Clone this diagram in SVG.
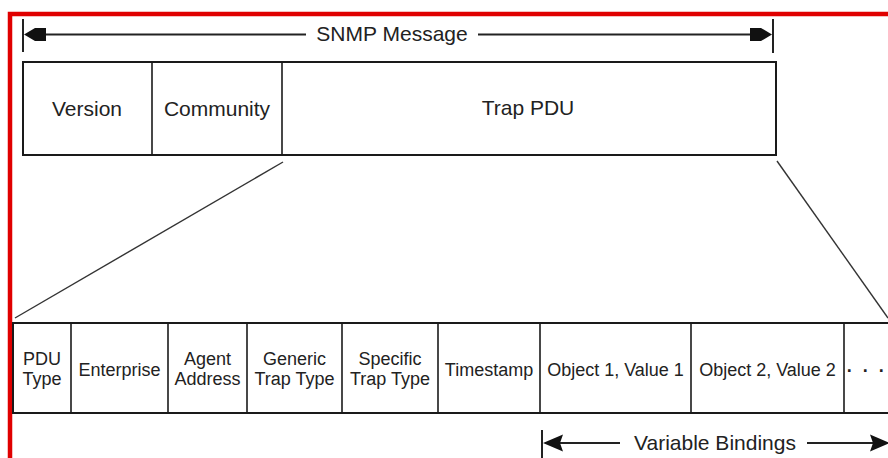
<svg xmlns="http://www.w3.org/2000/svg" xmlns:xlink="http://www.w3.org/1999/xlink" width="888" height="458" viewBox="0 0 888 458">
<style>
.box{fill:#fff;stroke:#1a1a1a;stroke-width:2}
.div{stroke:#1a1a1a;stroke-width:1.6}
.t20{font-family:"Liberation Sans",Arial,sans-serif;font-size:21px;fill:#222;text-anchor:middle}
.t18{font-family:"Liberation Sans",Arial,sans-serif;font-size:18px;fill:#222;text-anchor:middle}
.ln{stroke:#222;stroke-width:1.8;fill:none}
.diag{stroke:#333;stroke-width:1.4;fill:none}
.tick{stroke:#222;stroke-width:2}
.ah{fill:#111}
</style>
<defs>
<path id="ahL" d="M0,0 L11,-6.5 L22,-6.5 L22,6.5 L11,6.5 Z"/>
<path id="ahL2" d="M0,0 L20,-8.5 L17,0 L20,8.5 Z"/>
</defs>
<rect width="888" height="458" fill="#fff"/>
<path d="M10,460 L10,14 L890,14" fill="none" stroke="#e00000" stroke-width="4.5"/>

<g id="snmp-message">
<rect class="box" x="23" y="62" width="753" height="93"/>
</g>
<g id="version">
<text class="t20" x="87" y="116">Version</text>
</g>
<g id="community">
<line class="div" x1="152" y1="62" x2="152" y2="155"/>
<text class="t20" x="217" y="116">Community</text>
</g>
<g id="trap-pdu">
<line class="div" x1="282" y1="62" x2="282" y2="155"/>
<text class="t20" x="528" y="115">Trap PDU</text>
</g>

<g id="pdu-row">
<rect class="box" x="13" y="323" width="890" height="90"/>
</g>
<g id="pdu-type">
<text class="t18" x="42" y="365">PDU</text>
<text class="t18" x="42" y="385">Type</text>
</g>
<g id="enterprise">
<line class="div" x1="71" y1="323" x2="71" y2="413"/>
<text class="t18" x="119.5" y="376">Enterprise</text>
</g>
<g id="agent-address">
<line class="div" x1="168" y1="323" x2="168" y2="413"/>
<text class="t18" x="207.5" y="365">Agent</text>
<text class="t18" x="207.5" y="385">Address</text>
</g>
<g id="generic-trap-type">
<line class="div" x1="247" y1="323" x2="247" y2="413"/>
<text class="t18" x="294.5" y="365">Generic</text>
<text class="t18" x="294.5" y="385">Trap Type</text>
</g>
<g id="specific-trap-type">
<line class="div" x1="342" y1="323" x2="342" y2="413"/>
<text class="t18" x="390" y="365">Specific</text>
<text class="t18" x="390" y="385">Trap Type</text>
</g>
<g id="timestamp">
<line class="div" x1="438" y1="323" x2="438" y2="413"/>
<text class="t18" x="489" y="376">Timestamp</text>
</g>
<g id="object1">
<line class="div" x1="540" y1="323" x2="540" y2="413"/>
<text class="t18" x="615.5" y="376">Object 1, Value 1</text>
</g>
<g id="object2">
<line class="div" x1="691" y1="323" x2="691" y2="413"/>
<text class="t18" x="767.5" y="376">Object 2, Value 2</text>
</g>
<g id="more">
<line class="div" x1="844" y1="323" x2="844" y2="413"/>
<text class="t18" x="867" y="377" style="letter-spacing:2.5px;font-weight:bold">· · ·</text>
</g>

<g id="connectors">
<line class="diag" x1="283" y1="162" x2="15" y2="318"/>
<line class="diag" x1="777" y1="161" x2="888" y2="318"/>

<line class="tick" x1="23" y1="19" x2="23" y2="52"/>
<line class="tick" x1="773" y1="19" x2="773" y2="53"/>
<line class="ln" x1="40" y1="34.5" x2="306" y2="34.5"/>
<line class="ln" x1="478" y1="34.5" x2="755" y2="34.5"/>
<use href="#ahL" class="ah" transform="translate(24,34.5)"/>
<use href="#ahL" class="ah" transform="translate(772,34.5) scale(-1,1)"/>
<text class="t20" x="392" y="41">SNMP Message</text>

<line class="tick" x1="542" y1="430" x2="542" y2="460"/>
<line class="ln" x1="560" y1="443" x2="620" y2="443"/>
<line class="ln" x1="807" y1="443" x2="875" y2="443"/>
<use href="#ahL2" class="ah" transform="translate(543,443)"/>
<use href="#ahL2" class="ah" transform="translate(890,443) scale(-1,1)"/>
<text class="t20" x="715" y="450">Variable Bindings</text>
</g>
</svg>
